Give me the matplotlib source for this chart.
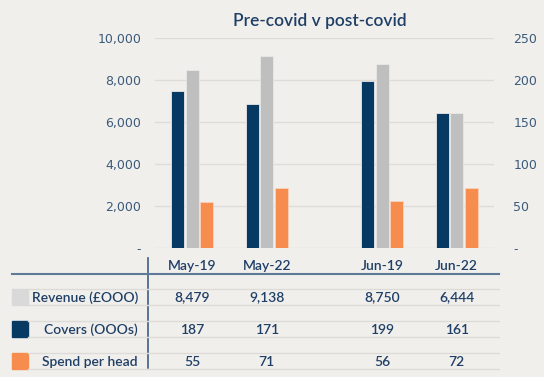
import matplotlib.pyplot as plt
from matplotlib.lines import Line2D
from matplotlib.patches import Rectangle
from matplotlib.transforms import blended_transform_factory

# data
months = ["May-19", "May-22", "Jun-19", "Jun-22"]
revenue = [8479, 9138, 8750, 6444]      # £000, left axis
covers = [187, 171, 199, 161]           # 000s, right axis
spend = [55, 71, 56, 72]                # right axis
row_labels = ["Revenue (£OOO)", "Covers (OOOs)", "Spend per head"]

# layout (empty slot between May and June groups)
x_pos = [0, 1, 2.55, 3.55]

BG = "#F0EFEC"
NAVY = "#063A63"
GREY = "#BFBFBF"
LIGHT = "#D9D9D9"
ORANGE = "#F78C4F"
TXT = "#1F3F66"
TICK = "#3C5A7A"

plt.rcParams['font.family'] = ['Lato', 'DejaVu Sans']

fig = plt.figure(figsize=(5.44, 3.77), dpi=100, facecolor=BG)
ax = fig.add_axes([0.285, 0.342, 0.623, 0.557])
ax.set_facecolor(BG)
ax2 = ax.twinx()

w = 0.175
off = 0.195
ax2.bar([x - off for x in x_pos], covers, width=w, color=NAVY,
        edgecolor="#E8E8E8", linewidth=0.6, zorder=3)
ax.bar(x_pos, revenue, width=w, color=GREY,
       edgecolor="#E8E8E8", linewidth=0.6, zorder=3)
ax2.bar([x + off for x in x_pos], spend, width=w, color=ORANGE,
        edgecolor="#FAD3BC", linewidth=0.6, zorder=3)

ax.set_xlim(-0.5, 4.05)
ax.set_ylim(0, 10000)
ax2.set_ylim(0, 250)
ax.set_yticks(range(0, 10001, 2000))
ax.set_yticklabels(["-"] + [f"{v:,}" for v in range(2000, 10001, 2000)])
ax2.set_yticks(range(0, 251, 50))
ax2.set_yticklabels(["-"] + [str(v) for v in range(50, 251, 50)])
ax.set_xticks([])
ax.grid(axis="y", color="#DDDCD8", linewidth=1, zorder=0)
ax.set_axisbelow(True)
for a in (ax, ax2):
    for s in a.spines.values():
        s.set_visible(False)
    a.tick_params(length=0, colors=TICK, labelsize=9)
for lbl in ax.get_yticklabels() + ax2.get_yticklabels():
    lbl.set_family("DejaVu Sans")
ax.tick_params(axis="y", pad=10)
ax2.tick_params(axis="y", pad=14)

fig.text(0.588, 0.945, "Pre-covid v post-covid", ha="center", va="center",
         fontsize=12.5, color=TXT, fontweight="semibold")

# data table below the chart
def fy(py):
    return 1 - py / 377

def fx(px):
    return px / 544

trans = blended_transform_factory(ax.transData, fig.transFigure)

fig.add_artist(Line2D([fx(148), fx(148)], [fy(258), fy(368)], color="#3E5F84", lw=1.2))
fig.add_artist(Line2D([fx(12), fx(499)], [fy(273.5), fy(273.5)], color="#5F7A99", lw=1.5))

for x, m in zip(x_pos, months):
    fig.text(x, fy(266), m, transform=trans, ha="center", va="center",
             fontsize=10, color=TXT, fontweight="semibold")

rows = [revenue, covers, spend]
colors = [LIGHT, NAVY, ORANGE]
tops = [289, 321, 353]
for vals, lab, col, top in zip(rows, row_labels, colors, tops):
    bot = top + 16
    for yy in (top, bot):
        fig.add_artist(Line2D([fx(28), fx(499)], [fy(yy), fy(yy)],
                              color="#DCDBD7", lw=1))
    fig.add_artist(Rectangle((fx(12), fy(bot)), fx(16), fy(top) - fy(bot),
                             color=col, transform=fig.transFigure))
    yc = fy(top + 8.5)
    fig.text(fx(138), yc, lab, ha="right", va="center", fontsize=10,
             color=TXT, fontweight="semibold")
    for x, v in zip(x_pos, vals):
        fig.text(x, yc, f"{v:,}", transform=trans, ha="center", va="center",
                 fontsize=10, color=TXT, fontweight="semibold")

fig.savefig("out.png", dpi=100, facecolor=BG)
